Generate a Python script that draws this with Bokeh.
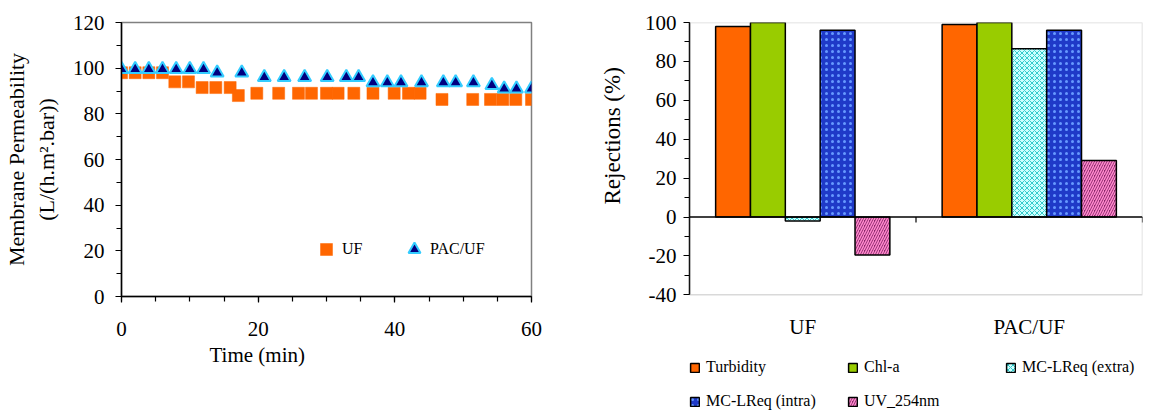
from bokeh.plotting import figure
from bokeh.layouts import row
from bokeh.models import (Range1d, FactorRange, Legend, LegendItem, Span, Title,
                          BoxAnnotation, SingleIntervalTicker, ColumnDataSource)
from bokeh.core.properties import value
from bokeh.transform import dodge
from bokeh.embed import file_html
from bokeh.resources import INLINE

FONT = "Liberation Serif"

# ---------------- data: membrane permeability ----------------
uf_time = [0, 2, 4, 6, 7.8, 9.8, 11.8, 13.8, 15.9, 17.1, 19.8, 23, 25.9, 27.8,
           30, 31.7, 34, 36.8, 39.9, 42, 43.7, 46.9, 51.4, 54, 55.8, 57.7, 60]
uf_perm = [98, 98, 98, 98, 94, 94, 91.5, 91.5, 91.5, 88, 89, 89, 89, 89,
           89, 89, 89, 89, 89, 89, 89, 86.3, 86.3, 86.3, 86.3, 86.3, 86.3]
pac_time = [0, 2, 4, 6, 8, 10, 12, 14, 17.6, 20.9, 23.8, 26.8, 30.1, 32.9,
            34.7, 36.8, 38.9, 40.9, 43.9, 47.1, 48.9, 51.5, 54.2, 56, 57.8, 60]
pac_perm = [99.5, 99.5, 99.5, 99.5, 99.5, 99.5, 99.5, 98, 98, 96, 96, 96, 96, 96,
            96, 93.7, 93.7, 93.7, 93.7, 93.7, 93.7, 93.7, 92.5, 91, 91, 91]

# ---------------- data: rejections ----------------
categories = ["UF", "PAC/UF"]
series_names = ["Turbidity", "Chl-a", "MC-LReq (extra)", "MC-LReq (intra)", "UV_254nm"]
turbidity = [98, 99]
chl_a = [100, 100]
mc_extra = [-2, 86.5]
mc_intra = [96, 96]
uv_254 = [-19.5, 29]

Y_MIN, Y_MAX = -40, 100          # value axis of the bar chart
LEGEND_ROOM = 60                 # extra frame room (value units) below Y_MIN for labels/legend


def style_axis(ax, tick_font="21px", title_font="22px"):
    ax.axis_line_color = "black"
    ax.axis_line_width = 1.5
    ax.major_tick_line_color = "black"
    ax.minor_tick_line_color = "black"
    ax.major_tick_line_width = 1.2
    ax.minor_tick_line_width = 1.2
    ax.major_tick_in = 0
    ax.major_tick_out = 6
    ax.minor_tick_in = 0
    ax.minor_tick_out = 5
    ax.major_label_text_font = FONT
    ax.major_label_text_font_size = tick_font
    ax.major_label_text_color = "black"
    ax.axis_label_text_font = FONT
    ax.axis_label_text_font_size = title_font
    ax.axis_label_text_font_style = "normal"
    ax.axis_label_text_color = "black"


# ================= left chart =================
p1 = figure(width=559, height=403, x_range=Range1d(0, 60), y_range=Range1d(0, 120),
            output_backend="svg", toolbar_location=None,
            min_border_left=121, min_border_right=28, min_border_top=22,
            min_border_bottom=107)
p1.outline_line_color = "#808080"
p1.outline_line_width = 1.5
p1.grid.visible = False

style_axis(p1.xaxis[0])
style_axis(p1.yaxis[0])
p1.xaxis.ticker = SingleIntervalTicker(interval=20, num_minor_ticks=4)
p1.yaxis.ticker = SingleIntervalTicker(interval=20, num_minor_ticks=2)
p1.yaxis.axis_label = "Membrane Permeability\n(L/(h.m\u00b2.bar))"
p1.xaxis.major_label_standoff = 19
p1.yaxis.major_label_standoff = 11
p1.yaxis.axis_label_standoff = 11
p1.add_layout(Title(text="Time (min)", align="left", offset=88, standoff=4,
                    text_font=FONT, text_font_size="21px", text_font_style="normal",
                    text_color="black"), "below")

r_uf = p1.scatter(uf_time, uf_perm, marker="square", size=12,
                  fill_color="#FF6600", line_color="#FF6600", line_width=0.5)
r_pac = p1.scatter(pac_time, pac_perm, marker="triangle", size=13,
                   fill_color="#000080", line_color="#33CCFF", line_width=2)

leg1 = Legend(items=[LegendItem(label="UF", renderers=[r_uf]),
                     LegendItem(label="PAC/UF", renderers=[r_pac])],
              orientation="horizontal", location=(190, 32),
              glyph_width=30, glyph_height=30, label_standoff=1,
              label_width=57, spacing=0, padding=0, margin=0,
              border_line_color=None, background_fill_alpha=0,
              label_text_font=FONT, label_text_font_size="16px",
              label_text_color="black")
p1.add_layout(leg1, "center")

# ================= right chart =================
src = ColumnDataSource(dict(cat=categories, turbidity=turbidity, chl_a=chl_a,
                            mc_extra=mc_extra, mc_intra=mc_intra, uv_254=uv_254))

p2 = figure(width=584, height=411, x_range=FactorRange(factors=categories, range_padding=0),
            y_range=Range1d(Y_MIN - LEGEND_ROOM, Y_MAX), output_backend="svg",
            toolbar_location=None, x_axis_location=None,
            min_border_left=130, min_border_right=1, min_border_top=22,
            min_border_bottom=0)
p2.outline_line_color = None
p2.grid.visible = False
p2.add_layout(BoxAnnotation(top=Y_MAX, bottom=Y_MIN, fill_alpha=0,
                            line_color="#808080", line_width=1.5))

# let each plot keep its own frame (no frame alignment across the row)
for _p in (p1, p2):
    try:
        _p.frame_align = False
    except Exception:
        pass

style_axis(p2.yaxis[0])
p2.yaxis.bounds = (Y_MIN, Y_MAX)
p2.yaxis.ticker = SingleIntervalTicker(interval=20, num_minor_ticks=2)
p2.yaxis.major_label_overrides = {-20: "-20", -40: "-40"}
p2.yaxis.major_label_standoff = 7
p2.add_layout(Title(text="Rejections (%)", align="left", offset=207, standoff=34,
                    text_font=FONT, text_font_size="23px", text_font_style="normal",
                    text_color="black"), "left")

bw = 1 / 6.5
styles = [
    dict(field="turbidity", fill_color="#FF6600"),
    dict(field="chl_a", fill_color="#99CC00"),
    dict(field="mc_extra", fill_color="#CCFFFF", hatch_pattern="x",
         hatch_color="#33CCCC", hatch_scale=5, hatch_weight=1),
    dict(field="mc_intra", fill_color="#1F3AC8", hatch_pattern=".",
         hatch_color="#6699FF", hatch_scale=6, hatch_weight=1),
    dict(field="uv_254", fill_color="#8B2A6B", hatch_pattern="/",
         hatch_color="#FF88CC", hatch_scale=5, hatch_weight=1.5),
]
renderers = []
for i, st in enumerate(styles):
    st = dict(st)
    field = st.pop("field")
    r = p2.vbar(x=dodge("cat", (i - 2) * bw, range=p2.x_range), top=field, bottom=0,
                width=bw, source=src, line_color="black", line_width=1.5, **st)
    renderers.append(r)

p2.add_layout(Span(location=0, dimension="width", line_color="black", line_width=1.5))
p2.segment(x0=dodge("cat", 0.5, range=p2.x_range), x1=dodge("cat", 0.5, range=p2.x_range),
           y0=0, y1=-2.8, source=src, line_color="black", line_width=1.2)

# category labels below the value axis
p2.text(x="cat", y=Y_MIN - 16.3, text="cat", source=src, text_align="center",
        text_baseline="middle", text_font=value(FONT), text_font_size="21px",
        text_color="black")

leg2 = Legend(items=[LegendItem(label=n, renderers=[r]) for n, r in zip(series_names, renderers)],
              orientation="horizontal", ncols=3, location=(0, 1),
              glyph_width=11, glyph_height=11, label_standoff=6,
              label_width=125, label_height=14, spacing=16, padding=0, margin=0,
              border_line_color=None, background_fill_alpha=0,
              label_text_font=FONT, label_text_font_size="16px",
              label_text_color="black")
p2.add_layout(leg2, "center")

layout = row(p1, p2)
open("out.html", "w").write(file_html(layout, INLINE))
